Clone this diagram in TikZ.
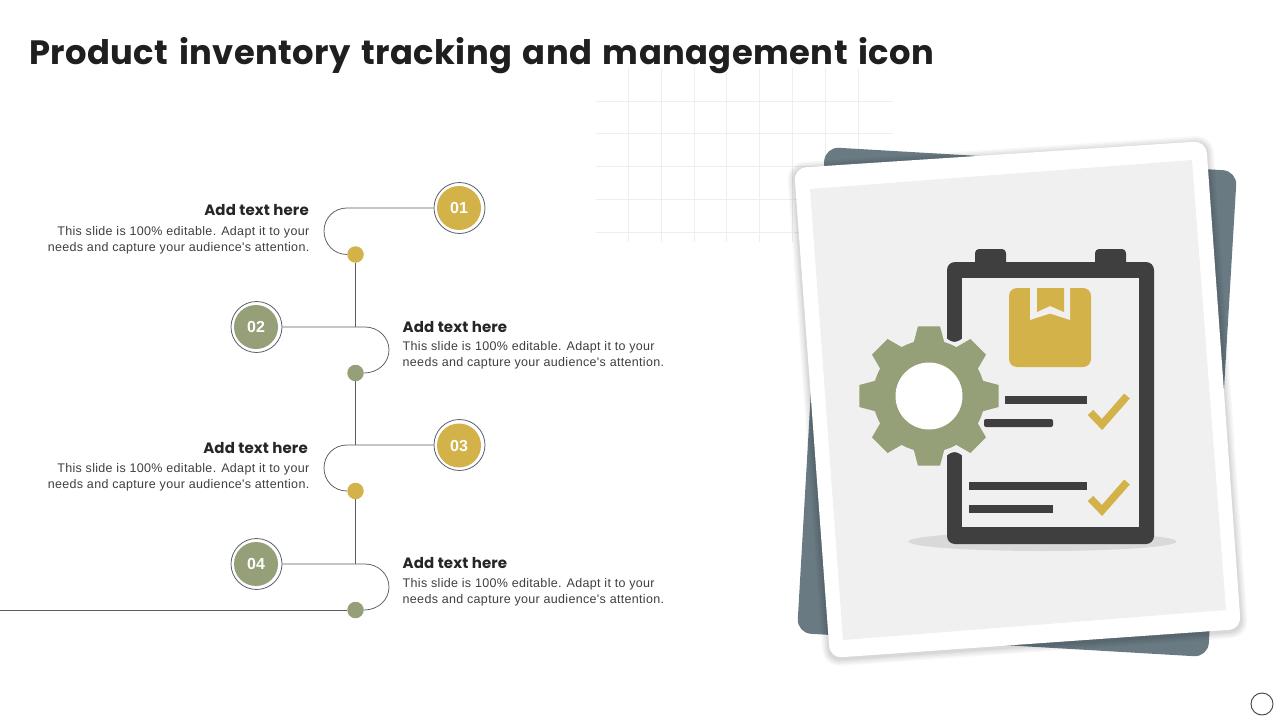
\documentclass[tikz,border=0pt]{standalone}
\usepackage{fontspec}
\setmainfont{Liberation Sans}
\newfontfamily\titlef[LetterSpace=1.25,WordSpace=1.4]{Poppins}
\newfontfamily\headf[LetterSpace=1]{Poppins}
\newfontfamily\bodyf[LetterSpace=2.6]{Liberation Sans}
\definecolor{gold}{HTML}{D3B24A}
\definecolor{sage}{HTML}{959F78}
\definecolor{slate}{HTML}{6A7A83}
\definecolor{ink}{HTML}{3F3F3F}
\definecolor{paper}{HTML}{F0F0F0}
\definecolor{gridc}{HTML}{EEEEEE}
\definecolor{ringc}{HTML}{5A6070}
\tikzset{
  ring/.style={circle,draw=ringc,line width=.8pt,fill=white,minimum size=51,inner sep=0},
  badge/.style={circle,fill=#1,minimum size=44,inner sep=0,text=white,font=\fontsize{16}{16}\selectfont\bfseries},
  dotn/.style={circle,fill=#1,minimum size=16.5,inner sep=0},
  conn/.style={draw=ink!85,line width=.75pt},
  headl/.style={font=\fontsize{15}{15}\headf\bfseries\selectfont,text=black!85,inner sep=0},
  bodyl/.style={font=\fontsize{12.5}{16}\bodyf\selectfont,text=ink,inner sep=0},
  barb/.style={fill=ink},
  tick/.style={draw=gold,line width=7.5pt,miter limit=10},
}
\newcommand{\toothset}{%
  \foreach \a in {0,45,...,315}{
    \fill[sage] ([shift={(\a-17:54)}]929,396) -- ([shift={(\a-9:70.5)}]929,396) -- ([shift={(\a+9:70.5)}]929,396) -- ([shift={(\a+17:54)}]929,396) -- cycle;
  }
}
\begin{document}
\begin{tikzpicture}[x=1pt,y=-1pt]
\useasboundingbox (0,0) rectangle (1280,720);
\fill[white] (0,0) rectangle (1280,720);
% grid
\foreach \x in {628,661,694,726,759,792,825,858} \draw[gridc,line width=.7pt] (\x,68) -- (\x,242);
\foreach \y in {101,133,166,199,232} \draw[gridc,line width=.7pt] (596,\y) -- (893,\y);
% title
\node[anchor=base west,inner sep=0,text=black!88,font=\fontsize{33.75}{36}\titlef\bfseries\selectfont] (title) at (29,64) {Product inventory tracking and management icon};
% back card
\fill[slate,rounded corners=14pt] (825,147) -- (1237,171) -- (1208,657) -- (797,633) -- cycle;
% card shadow
\foreach \w in {14,11,8,5,3}
  \draw[black,draw opacity=.03,line width=\w pt,line join=round,rounded corners=10pt,shift={(0,1.5)}] (794,168) -- (1206,141) -- (1241,629) -- (830,658) -- cycle;
% white card and paper
\fill[white,rounded corners=12pt] (794,168) -- (1206,141) -- (1241,629) -- (830,658) -- cycle;
\fill[paper] (810,189) -- (1192,160) -- (1226,610) -- (843,640) -- cycle;
% floor shadow
\fill[black!15] (1042.5,541.5) ellipse [x radius=134,y radius=9.5];
% clipboard
\fill[ink,rounded corners=4pt] (975,270) -- (975,249) -- (1006,249) -- (1006,270) -- cycle;
\fill[ink,rounded corners=4pt] (1095,270) -- (1095,249) -- (1126,249) -- (1126,270) -- cycle;
\fill[ink,rounded corners=8pt] (947,262) -- (1154,262) -- (1154,544) -- (947,544) -- cycle;
\fill[paper] (962,278) rectangle (1139,527);
\fill[paper] (946,338) .. controls (950,341) and (952,342) .. (954.5,342) .. controls (957,342) and (959,341) .. (963,338) -- (963,456) .. controls (959,453) and (957,452) .. (954.5,452) .. controls (952,452) and (950,453) .. (946,456) -- cycle;
\fill[paper] (943,340) rectangle (947,453);
% box
\fill[gold,rounded corners=8pt] (1009,288) rectangle (1091,367);
\fill[paper] (1030,288) -- (1030,320) -- (1050,313.5) -- (1070,320) -- (1070,288) -- cycle;
\fill[gold] (1037,288) -- (1037,312) -- (1050,306) -- (1064,312) -- (1064,288) -- cycle;
% list lines
\fill[barb] (1005,396) rectangle (1087,404);
\fill[barb,rounded corners=2pt] (984,419) -- (1053,419) -- (1053,427) -- (984,427) -- cycle;
\fill[barb] (969,482) rectangle (1087,490);
\fill[barb] (969,505) rectangle (1053,513);
% ticks
\draw[tick] (1090.5,412.5) -- (1102,424.5) -- (1127,396);
\draw[tick] (1090.5,498.5) -- (1102,510.5) -- (1127,482);
% gear
\foreach \a in {0,45,...,315}{
  \draw[paper,line width=5pt,line join=round] ([shift={(\a-17:54)}]929,396) -- ([shift={(\a-9:70.5)}]929,396) -- ([shift={(\a+9:70.5)}]929,396) -- ([shift={(\a+17:54)}]929,396);
}
\fill[paper] (929,396) circle [radius=58];
\toothset
\fill[sage] (929,396) circle [radius=56];
\fill[white] (929,396) circle [radius=33.5];
% timeline dots and rings
\node[ring] (r1) at (459.5,208) {};
\node[ring] (r2) at (256.5,327) {};
\node[ring] (r3) at (459.5,445) {};
\node[ring] (r4) at (256.5,564) {};
\node[dotn=gold] (d1) at (355.5,254.5) {};
\node[dotn=sage] (d2) at (355.5,373) {};
\node[dotn=gold] (d3) at (355.5,491) {};
\node[dotn=sage] (d4) at (355.5,610) {};
\coordinate (j2) at (355.5,327);
\coordinate (j3) at (355.5,445);
\coordinate (j4) at (355.5,564);
\coordinate (e1) at (0,610);
\draw[conn] (r1.west) -- (347,208) .. controls (334,208) and (324,218) .. (324,231) .. controls (324,244) and (334,254.5) .. (d1.west);
\draw[conn] (d1.south) -- (j2);
\draw[conn] (r2.east) -- (365,327) .. controls (378,327) and (389,337) .. (389,350) .. controls (389,363) and (378,373) .. (d2.east);
\draw[conn] (d2.south) -- (j3);
\draw[conn] (r3.west) -- (347,445) .. controls (334,445) and (324,455) .. (324,468) .. controls (324,481) and (334,491) .. (d3.west);
\draw[conn] (d3.south) -- (j4);
\draw[conn] (r4.east) -- (365,564) .. controls (378,564) and (389,574) .. (389,587) .. controls (389,600) and (378,610) .. (d4.east);
\draw[conn] (d4.west) -- (e1);
\node[badge=gold] (n1) at (459,208) {01};
\node[badge=sage] (n2) at (256,327) {02};
\node[badge=gold] (n3) at (459,445.5) {03};
\node[badge=sage] (n4) at (256,564) {04};
% text
\node[headl,anchor=east] (h1) at (309,210) {Add text here};
\node[headl,anchor=west] (h2) at (402.5,327) {Add text here};
\node[headl,anchor=east] (h3) at (308,448) {Add text here};
\node[headl,anchor=west] (h4) at (402.5,563) {Add text here};
\node[bodyl,anchor=east,align=right] (b1) at (309.5,240) {This slide is 100\% editable. Adapt it to your\\needs and capture your audience's attention.};
\node[bodyl,anchor=west,align=left] (b2) at (402.5,355) {This slide is 100\% editable. Adapt it to your\\needs and capture your audience's attention.};
\node[bodyl,anchor=east,align=right] (b3) at (309.5,477) {This slide is 100\% editable. Adapt it to your\\needs and capture your audience's attention.};
\node[bodyl,anchor=west,align=left] (b4) at (402.5,592) {This slide is 100\% editable. Adapt it to your\\needs and capture your audience's attention.};
% corner marker
\node[circle,draw=ink,line width=.9pt,fill=white,minimum size=22,inner sep=0] (mark) at (1262,704) {};
\end{tikzpicture}
\end{document}
